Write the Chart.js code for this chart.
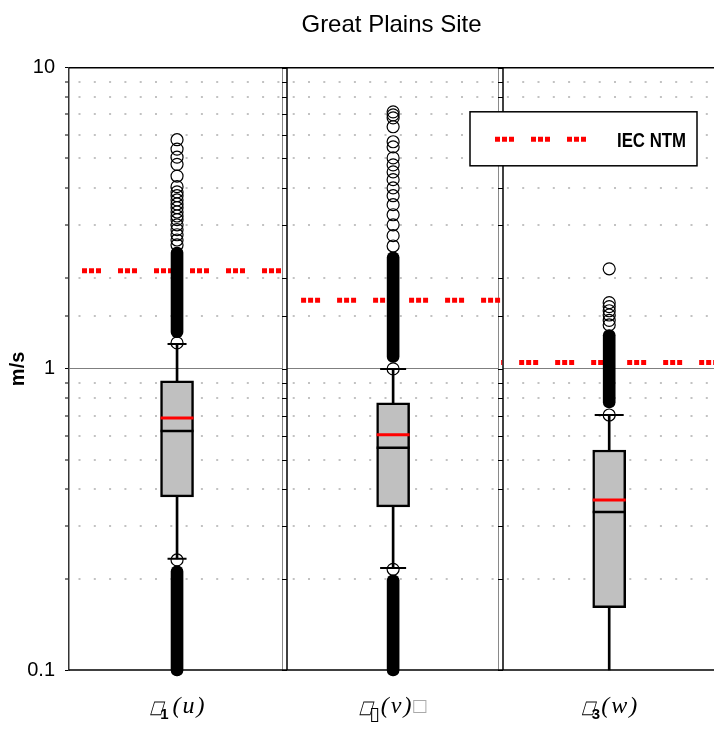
<!DOCTYPE html>
<html>
<head>
<meta charset="utf-8">
<title>Great Plains Site</title>
<script src="https://cdn.jsdelivr.net/npm/chart.js@4.4.1/dist/chart.umd.min.js"></script>
<style>
  html, body { margin: 0; padding: 0; background: #fff; }
  canvas { display: block; }
</style>
</head>
<body>
<canvas id="chart" width="714" height="730"></canvas>
<script>
// one panel per wind component
const components = ['u', 'v', 'w'];

// axis label pieces (the symbol font is missing in the original, so it shows boxes)
const labelSymbol = ['□', '□', '□'];
const labelSub = ['1', '▯', '3'];
const labelVar = ['(u)', '(v)', '(w)'];
const labelTail = ['', '□', ''];

const yLabels = [0.1, 1, 10];

// box plot statistics, m/s
const boxQ1 = [0.376, 0.348, 0.161];
const boxQ3 = [0.912, 0.771, 0.538];
const medians = [0.622, 0.547, 0.335];
const means = [0.687, 0.604, 0.367];
const whiskerHigh = [1.21, 1.0, 0.703];
const whiskerLow = [0.234, 0.218, 0.1];

// IEC normal turbulence model
const iecNtm = [2.12, 1.69, 1.05];

// outliers that can be told apart
const outliersU = [5.77, 5.37, 5.05, 4.78, 4.37, 4.03, 3.87, 3.76, 3.64, 3.53, 3.43, 3.32, 3.22, 3.13, 3.01, 2.9, 2.79, 2.68, 2.58, 1.22, 0.232];
const outliersV = [7.14, 6.98, 6.82, 6.37, 5.68, 5.46, 5.02, 4.76, 4.51, 4.25, 3.99, 3.76, 3.51, 3.25, 3.01, 2.77, 2.56, 1.0, 0.216];
const outliersW = [2.15, 1.66, 1.61, 1.56, 1.51, 1.45, 1.4, 0.703];

// ranges where the outlier circles merge into a solid column
const denseHigh = [[1.27, 2.54], [1.05, 2.45], [0.742, 1.35]];
const denseLow = [[0.0955, 0.222], [0.0955, 0.207], null];

Chart.defaults.font.family = '"Liberation Sans", Arial, sans-serif';
Chart.defaults.color = '#000';

const isDecade = v => Math.abs(Math.log10(v) - Math.round(Math.log10(v))) < 1e-9;
const near = (a, b) => Math.abs(a - b) < 1e-9;

// helpers to build the datasets
const xOf = i => i + 0.5;
const perPanel = (arr, f) => arr.map((v, i) => v == null ? null : f(v, i)).filter(p => p);

const outlierPoints = [outliersU, outliersV, outliersW]
  .flatMap((list, i) => list.map(v => ({ x: xOf(i), y: v })));

const barStyle = { type: 'bar', grouped: false, borderSkipped: false, clip: false };

const datasets = [
  {
    type: 'scatter', label: 'outliers', data: outlierPoints, clip: false,
    pointStyle: 'circle', pointRadius: 6, borderColor: '#000', borderWidth: 1.2,
    backgroundColor: 'rgba(0,0,0,0)'
  },
  {
    type: 'scatter', label: 'cap high', data: whiskerHigh.map((v, i) => ({ x: xOf(i), y: v })),
    pointStyle: 'line', pointRadius: [9.5, 13, 14.5], borderColor: '#000', borderWidth: 2
  },
  {
    type: 'scatter', label: 'cap low', data: whiskerLow.map((v, i) => ({ x: xOf(i), y: v })),
    pointStyle: 'line', pointRadius: [9.5, 13, 0], borderColor: '#000', borderWidth: 2
  },
  {
    type: 'scatter', label: 'mean', data: means.map((v, i) => ({ x: xOf(i), y: v })),
    pointStyle: 'line', pointRadius: 16.5, borderColor: '#ff0000', borderWidth: 3
  },
  {
    type: 'scatter', label: 'median', data: medians.map((v, i) => ({ x: xOf(i), y: v })),
    pointStyle: 'line', pointRadius: 16.5, borderColor: '#000', borderWidth: 2.5
  },
  {
    ...barStyle, label: 'box', data: boxQ1.map((v, i) => ({ x: xOf(i), y: [v, boxQ3[i]] })),
    barThickness: 33, backgroundColor: '#c0c0c0', borderColor: '#000', borderWidth: 2.5
  },
  {
    ...barStyle, label: 'whisker high', data: boxQ3.map((v, i) => ({ x: xOf(i), y: [v, whiskerHigh[i]] })),
    barThickness: 2, backgroundColor: '#000', borderWidth: 0
  },
  {
    ...barStyle, label: 'whisker low', data: boxQ1.map((v, i) => ({ x: xOf(i), y: [whiskerLow[i], v] })),
    barThickness: 2, backgroundColor: '#000', borderWidth: 0
  },
  {
    ...barStyle, label: 'dense high', data: perPanel(denseHigh, (r, i) => ({ x: xOf(i), y: r })),
    barThickness: 12, backgroundColor: '#000', borderWidth: 0, borderRadius: 6
  },
  {
    ...barStyle, label: 'dense low', data: perPanel(denseLow, (r, i) => ({ x: xOf(i), y: r })),
    barThickness: 12, backgroundColor: '#000', borderWidth: 0, borderRadius: 6
  }
];

// IEC NTM level, one dashed line across each panel
const iecLead = [13, 16, 18];
iecNtm.forEach((v, i) => {
  datasets.push({
    type: 'line', label: 'IEC NTM', data: [{ x: i, y: v }, { x: i + 1, y: v }],
    borderColor: '#ff0000', borderWidth: 5, borderCapStyle: 'butt',
    borderDash: [5, 2, 5, 2, 5, 17], borderDashOffset: 36 - iecLead[i],
    pointRadius: 0, fill: false
  });
});

// double lines between the panels, top and bottom frame
const framePlugin = {
  id: 'frame',
  beforeDatasetsDraw(chart) {
    const { ctx, chartArea: a, scales: { x, y } } = chart;
    const line = (x1, y1, x2, y2, color, w) => {
      ctx.strokeStyle = color; ctx.lineWidth = w;
      ctx.beginPath(); ctx.moveTo(x1, y1); ctx.lineTo(x2, y2); ctx.stroke();
    };
    ctx.save();
    for (let i = 1; i < components.length; i++) {
      const px = Math.round(x.getPixelForValue(i));
      ctx.fillStyle = '#fff';
      ctx.fillRect(px - 2, a.top, 4, a.bottom - a.top);
      line(px - 2.5, a.top, px - 2.5, a.bottom, '#8a8a8a', 1);
      line(px + 2, a.top, px + 2, a.bottom, '#000', 1.5);
      y.ticks.forEach(t => {
        const py = Math.round(y.getPixelForValue(t.value)) + 0.5;
        line(px - 3, py, px + 2, py, '#000', 1);
      });
    }
    line(a.left, a.top, a.right, a.top, '#000', 1.5);
    line(a.left, a.bottom, a.right, a.bottom, '#000', 1.5);
    ctx.restore();
  }
};

// legend box in the upper right
const legendPlugin = {
  id: 'iecLegend',
  afterDraw(chart) {
    const { ctx, chartArea: a } = chart;
    const bx = a.right - 244, by = a.top + 44;
    ctx.save();
    ctx.fillStyle = '#fff';
    ctx.fillRect(bx, by, 227, 54);
    ctx.strokeStyle = '#000'; ctx.lineWidth = 1.5;
    ctx.strokeRect(bx, by, 227, 54);
    ctx.strokeStyle = '#ff0000'; ctx.lineWidth = 5;
    ctx.setLineDash([5, 2, 5, 2, 5, 17]);
    ctx.beginPath(); ctx.moveTo(bx + 25, by + 27.5); ctx.lineTo(bx + 116, by + 27.5); ctx.stroke();
    ctx.setLineDash([]);
    ctx.fillStyle = '#000';
    ctx.font = 'bold 21px "Liberation Sans", Arial, sans-serif';
    ctx.textBaseline = 'alphabetic';
    ctx.translate(bx + 147, by + 35);
    ctx.scale(0.8, 1);
    ctx.fillText('IEC NTM', 0, 0);
    ctx.restore();
  }
};

// category labels under each panel, mixed fonts
const xLabelPlugin = {
  id: 'xLabels',
  afterDraw(chart) {
    const { ctx, chartArea: a, scales: { x } } = chart;
    const base = a.bottom + 43;
    ctx.save();
    ctx.textBaseline = 'alphabetic';
    components.forEach((c, i) => {
      const parts = [
        { text: labelSymbol[i], font: 'bold 18px "DejaVu Sans"', color: '#000', dy: 0, gap: 0, sx: 0.8, skew: 0.3 },
        { text: labelSub[i], font: i === 1 ? '19px "DejaVu Sans"' : 'bold 15px "Liberation Sans"', color: '#000', dy: i === 1 ? 7 : 6, gap: -3 },
        { text: labelVar[i], font: 'italic 24px "Liberation Serif"', color: '#000', dy: 0, gap: i === 0 ? 4 : 1, spacing: 2 },
        { text: labelTail[i], font: '17px "DejaVu Sans"', color: '#aaa', dy: -2, gap: 0 }
      ].filter(p => p.text);
      let total = 0;
      parts.forEach(p => {
        ctx.font = p.font;
        p.w = [...p.text].reduce((s, ch) => s + ctx.measureText(ch).width, 0) * (p.sx || 1)
          + (p.spacing || 0) * (p.text.length - 1);
        total += p.gap + p.w;
      });
      let cx = x.getPixelForValue(xOf(i)) - total / 2;
      parts.forEach(p => {
        cx += p.gap;
        ctx.font = p.font;
        ctx.fillStyle = p.color;
        let px = cx;
        for (const ch of p.text) {
          ctx.save();
          ctx.translate(px, base + p.dy);
          ctx.transform(p.sx || 1, 0, -(p.skew || 0), 1, 0, 0);
          ctx.fillText(ch, 0, 0);
          ctx.restore();
          px += ctx.measureText(ch).width * (p.sx || 1) + (p.spacing || 0);
        }
        cx += p.w;
      });
    });
    ctx.restore();
  }
};

const ctx = document.getElementById('chart').getContext('2d');
new Chart(ctx, {
  type: 'bar',
  data: { datasets: datasets },
  options: {
    responsive: false,
    animation: false,
    events: [],
    layout: { autoPadding: false, padding: { top: 0, right: 0, bottom: 60, left: 0 } },
    plugins: {
      legend: { display: false },
      tooltip: { enabled: false },
      title: {
        display: true, text: 'Great Plains Site', fullSize: false, color: '#000',
        font: { size: 24, weight: 'normal' }, padding: { top: 11, bottom: 28 }
      }
    },
    scales: {
      x: {
        // the third panel runs a few pixels past the right edge of the picture
        type: 'linear', min: 0, max: 2.985, offset: false,
        display: false, grid: { display: false, offset: false }
      },
      y: {
        type: 'logarithmic', min: 0.1, max: 10,
        afterFit(scale) { scale.width = 69; },
        title: {
          display: true, text: 'm/s', color: '#000',
          font: { size: 20, weight: 'bold' }, padding: { top: 6, bottom: 0 }
        },
        ticks: {
          autoSkip: false, padding: 10, color: '#000', font: { size: 20 },
          callback: v => yLabels.some(l => near(l, v)) ? String(v) : ''
        },
        grid: {
          color: c => {
            const v = c.tick ? c.tick.value : 0;
            if (near(v, 1)) return '#7f7f7f';
            if (isDecade(v)) return 'rgba(0,0,0,0)';
            return '#c2c2c2';
          },
          lineWidth: c => (c.tick && isDecade(c.tick.value)) ? 1 : 2,
          drawTicks: true, tickLength: 4, tickColor: '#000', tickWidth: 1
        },
        border: {
          display: true, color: '#333', width: 1.5,
          dash: c => (c.tick && !isDecade(c.tick.value)) ? [2, 13.3] : [],
          dashOffset: -9
        }
      }
    }
  },
  plugins: [framePlugin, legendPlugin, xLabelPlugin]
});
</script>
</body>
</html>
